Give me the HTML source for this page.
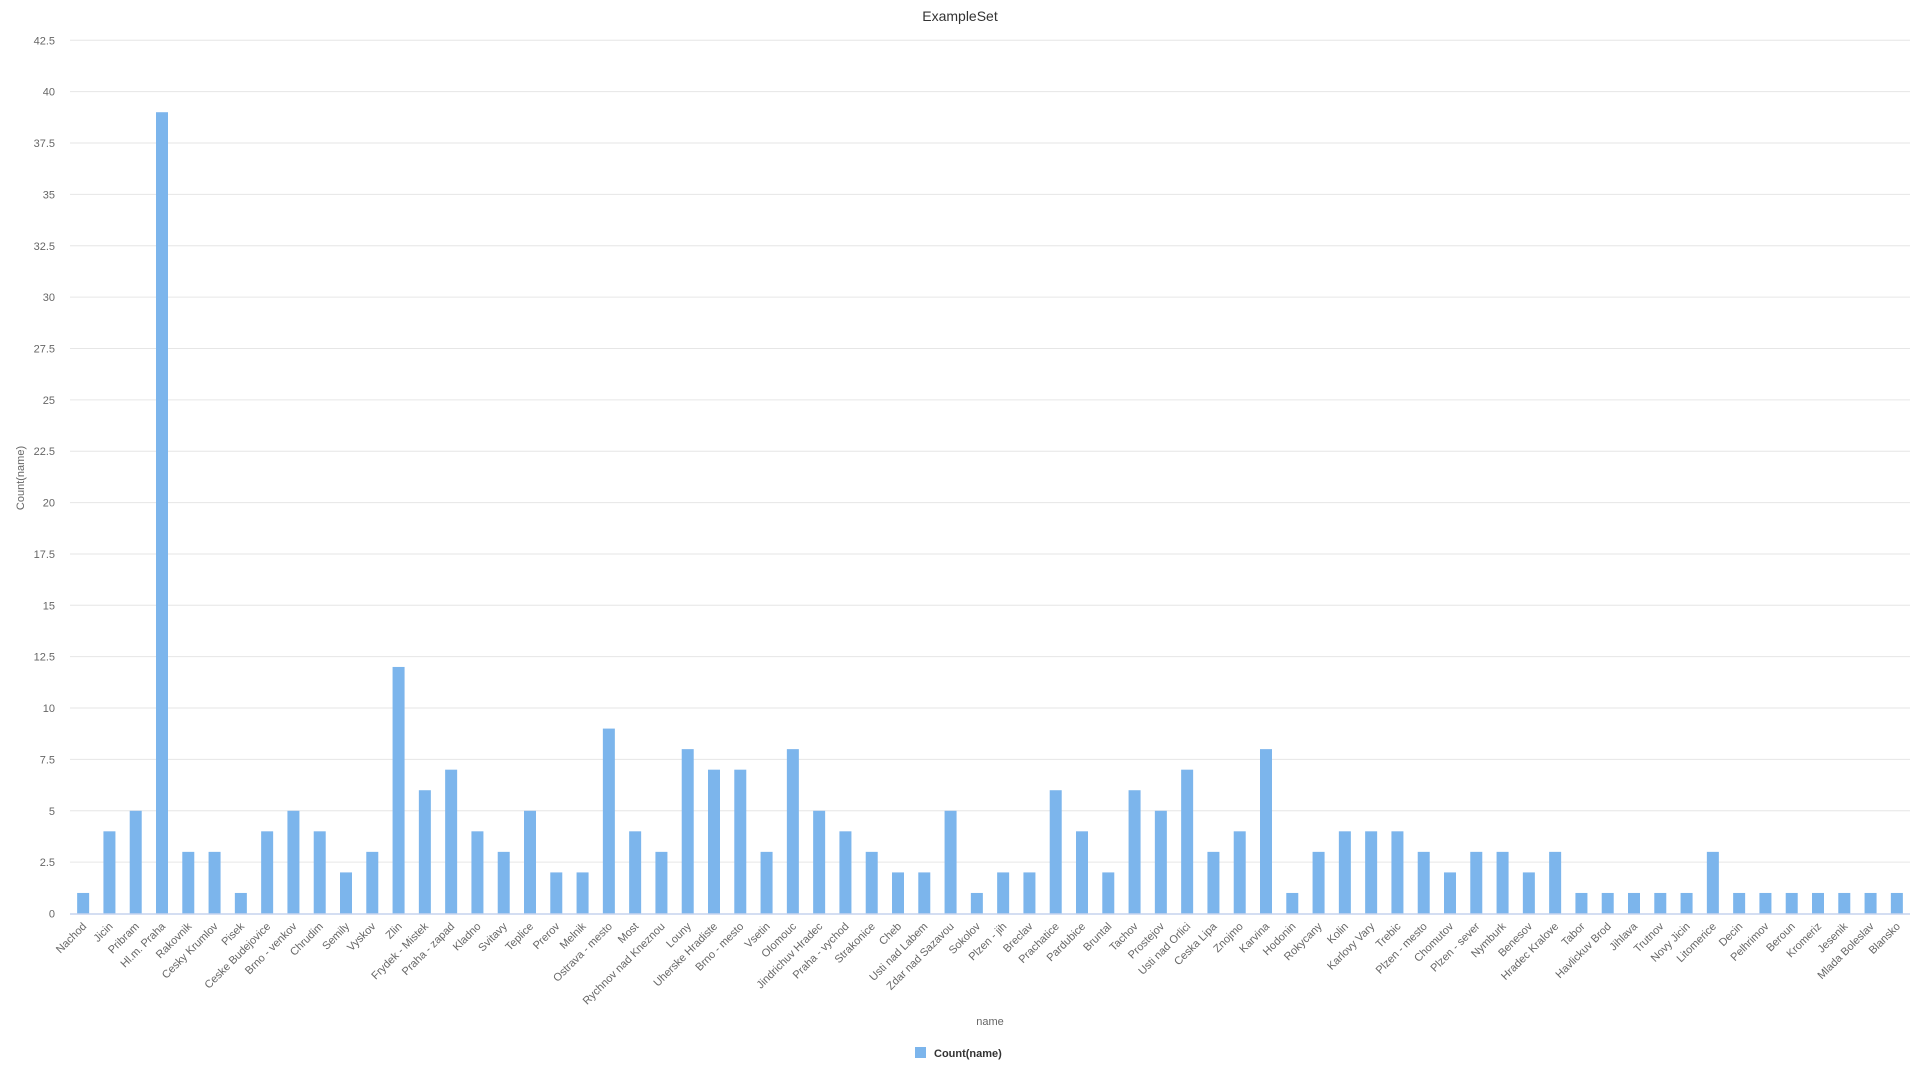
<!DOCTYPE html>
<html><head><meta charset="utf-8"><style>
html,body{margin:0;padding:0;background:#fff;}
svg{display:block;font-family:"Liberation Sans",Arial,sans-serif;}
</style></head><body>
<svg id="chart" width="1920" height="1080" viewBox="0 0 1920 1080">
<text x="960" y="21" text-anchor="middle" font-size="14" fill="#333">ExampleSet</text>
<g id="grid"></g>
<g id="yticks"></g>
<g id="bars"></g>
<g id="xticks"></g>
<line x1="70" y1="914" x2="1910" y2="914" stroke="#c6d4ee" stroke-width="1.5"/>
<text transform="translate(24,478) rotate(-90)" text-anchor="middle" font-size="11" fill="#666">Count(name)</text>
<text x="990" y="1025" text-anchor="middle" font-size="11" fill="#666">name</text>
<g>
<rect x="915" y="1047" width="11" height="11" fill="#7cb5ec"/>
<text x="934" y="1057" font-size="11" font-weight="bold" fill="#333">Count(name)</text>
</g>
</svg>
<script>
const categories = ["Nachod","Jicin","Pribram","Hl.m. Praha","Rakovnik","Cesky Krumlov","Pisek","Ceske Budejovice","Brno - venkov","Chrudim","Semily","Vyskov","Zlin","Frydek - Mistek","Praha - zapad","Kladno","Svitavy","Teplice","Prerov","Melnik","Ostrava - mesto","Most","Rychnov nad Kneznou","Louny","Uherske Hradiste","Brno - mesto","Vsetin","Olomouc","Jindrichuv Hradec","Praha - vychod","Strakonice","Cheb","Usti nad Labem","Zdar nad Sazavou","Sokolov","Plzen - jih","Breclav","Prachatice","Pardubice","Bruntal","Tachov","Prostejov","Usti nad Orlici","Ceska Lipa","Znojmo","Karvina","Hodonin","Rokycany","Kolin","Karlovy Vary","Trebic","Plzen - mesto","Chomutov","Plzen - sever","Nymburk","Benesov","Hradec Kralove","Tabor","Havlickuv Brod","Jihlava","Trutnov","Novy Jicin","Litomerice","Decin","Pelhrimov","Beroun","Kromeriz","Jesenik","Mlada Boleslav","Blansko"];
const values = [1,4,5,39,3,3,1,4,5,4,2,3,12,6,7,4,3,5,2,2,9,4,3,8,7,7,3,8,5,4,3,2,2,5,1,2,2,6,4,2,6,5,7,3,4,8,1,3,4,4,4,3,2,3,3,2,3,1,1,1,1,1,3,1,1,1,1,1,1,1];
const yTicks = [0,2.5,5,7.5,10,12.5,15,17.5,20,22.5,25,27.5,30,32.5,35,37.5,40,42.5];
const yMax = 42.5;

const NS="http://www.w3.org/2000/svg";
const L=70,R=1910,T=40.3,B=913.5;
function y(v){return B-(v/yMax)*(B-T);}
const band=(R-L)/categories.length;
function xc(i){return L+band*(i+0.5);}
function mk(tag,attrs,parent){const e=document.createElementNS(NS,tag);for(const k in attrs)e.setAttribute(k,attrs[k]);parent.appendChild(e);return e;}
const grid=document.getElementById('grid'),yt=document.getElementById('yticks'),bars=document.getElementById('bars'),xt=document.getElementById('xticks');
yTicks.forEach(v=>{
  if(v>0){const l=mk('line',{x1:L,x2:R,y1:y(v),y2:y(v),stroke:'#e6e6e6','stroke-width':1},grid);
  
  }
  const t=mk('text',{x:55,y:y(v)+4,'text-anchor':'end','font-size':11,fill:'#666'},yt);
  t.textContent=String(v);
  
  
});
categories.forEach((c,i)=>{
  const bw=12;
  const r=mk('rect',{x:xc(i)-bw/2,y:y(values[i]),width:bw,height:B-y(values[i]),fill:'#7cb5ec'},bars);
  
  
  const t=mk('text',{transform:`translate(${xc(i)+4},${927}) rotate(-45)`,'text-anchor':'end','font-size':11,fill:'#666'},xt);
  t.textContent=c;
  
  
});
</script>
</body></html>
